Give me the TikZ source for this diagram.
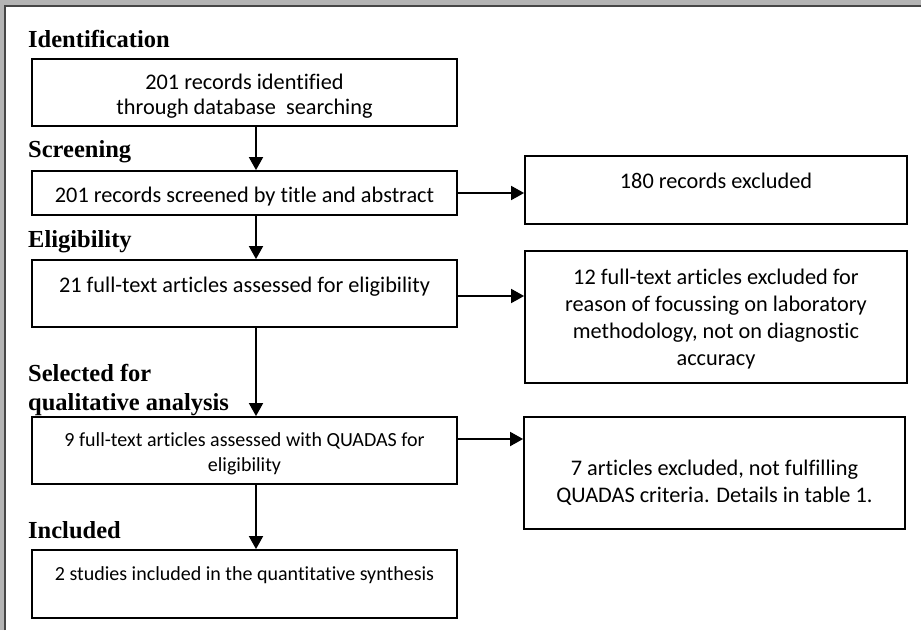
\documentclass[tikz,border=0pt]{standalone}
\usepackage{fontspec}
\setmainfont{Carlito}[Ligatures=NoCommon]
\newfontfamily\headfont{Liberation Serif}
\usetikzlibrary{arrows.meta}
\definecolor{framegray}{RGB}{180,180,180}
\definecolor{frameline}{RGB}{70,70,70}

\begin{document}
\begin{tikzpicture}[x=1pt, y=-1pt, align=center]
\tikzstyle{box} = [draw=black, line width=1.8pt, inner sep=0pt, font=\fontsize{22.3}{24.5}\selectfont]
\tikzstyle{lbox} = [box, minimum width=425pt]
\tikzstyle{sbox} = [lbox, font=\fontsize{20}{24.5}\selectfont]
\tikzstyle{rbox} = [box, minimum width=382pt, font=\fontsize{22.3}{27}\selectfont]
\tikzstyle{hd} = [anchor=base west, inner sep=0pt, align=left, font=\headfont\bfseries\fontsize{24.5}{29}\selectfont]
\tikzstyle{e} = [draw=black, line width=1.8pt, -{Triangle[length=13pt, width=14pt]}]

% page frame
\useasboundingbox (0,0) rectangle (921,630);
\fill[framegray] (0,0) rectangle (921,630);
\fill[white] (5,6) rectangle (921,630);
\draw[frameline, line width=1.2pt] (5,630) -- (5,6) -- (921,6);

% stage headings
\node[hd] (hid) at (28, 47) {Identification};
\node[hd] (hsc) at (28, 157) {Screening};
\node[hd] (hel) at (28, 247) {Eligibility};
\node[hd] (hqa) at (28, 410.5) {Selected for\\qualitative analysis};
\node[hd] (hin) at (28, 538.5) {Included};

% main column
\node[lbox, minimum height=67pt] (ident) at (244.5, 92.5) {\rule{0pt}{23pt}201 records identified\\through database~ searching};
\node[lbox, minimum height=44pt, text height=22pt, text depth=4pt] (screen) at (244.5, 193) {201 records screened by title and abstract};
\node[lbox, minimum height=67pt, text height=14pt, text depth=17pt] (elig) at (244.5, 293.5) {21 full-text articles assessed for eligibility};
\node[sbox, minimum height=67pt] (qual) at (244.5, 450.5) {\rule{0pt}{20pt}9 full-text articles assessed with QUADAS for\\eligibility};
\node[sbox, minimum height=68pt, text height=12pt, text depth=20pt] (incl) at (244.5, 584) {2 studies included in the quantitative synthesis};

% excluded
\node[rbox, minimum height=68pt, text height=14pt, text depth=17pt] (excl1) at (716, 190) {180 records excluded};
\node[rbox, minimum height=132pt] (excl2) at (716, 317) {\rule{0pt}{19pt}12 full-text articles excluded for\\reason of focussing on laboratory\\methodology, not on diagnostic\\accuracy};
\node[rbox, minimum width=381pt, minimum height=112pt] (excl3) at (714.5, 473) {\strut\\[-10pt]7 articles excluded, not fulfilling\\QUADAS criteria. Details in table 1.};

\draw[e] ([xshift=11.5pt]ident.south) to ([xshift=11.5pt]screen.north);
\draw[e] ([xshift=11.5pt]screen.south) to ([xshift=11.5pt]elig.north);
\draw[e] ([xshift=11.5pt]elig.south) to ([xshift=11.5pt]qual.north);
\draw[e] ([xshift=11.5pt]qual.south) to ([xshift=11.5pt]incl.north);
\draw[e] (screen.east) to (screen.east -| excl1.west);
\draw[e] ([yshift=-2.5pt]elig.east) to ([yshift=-2.5pt]elig.east -| excl2.west);
\draw[e] ([yshift=11.5pt]qual.east) to ([yshift=11.5pt]qual.east -| excl3.west);
\end{tikzpicture}
\end{document}
